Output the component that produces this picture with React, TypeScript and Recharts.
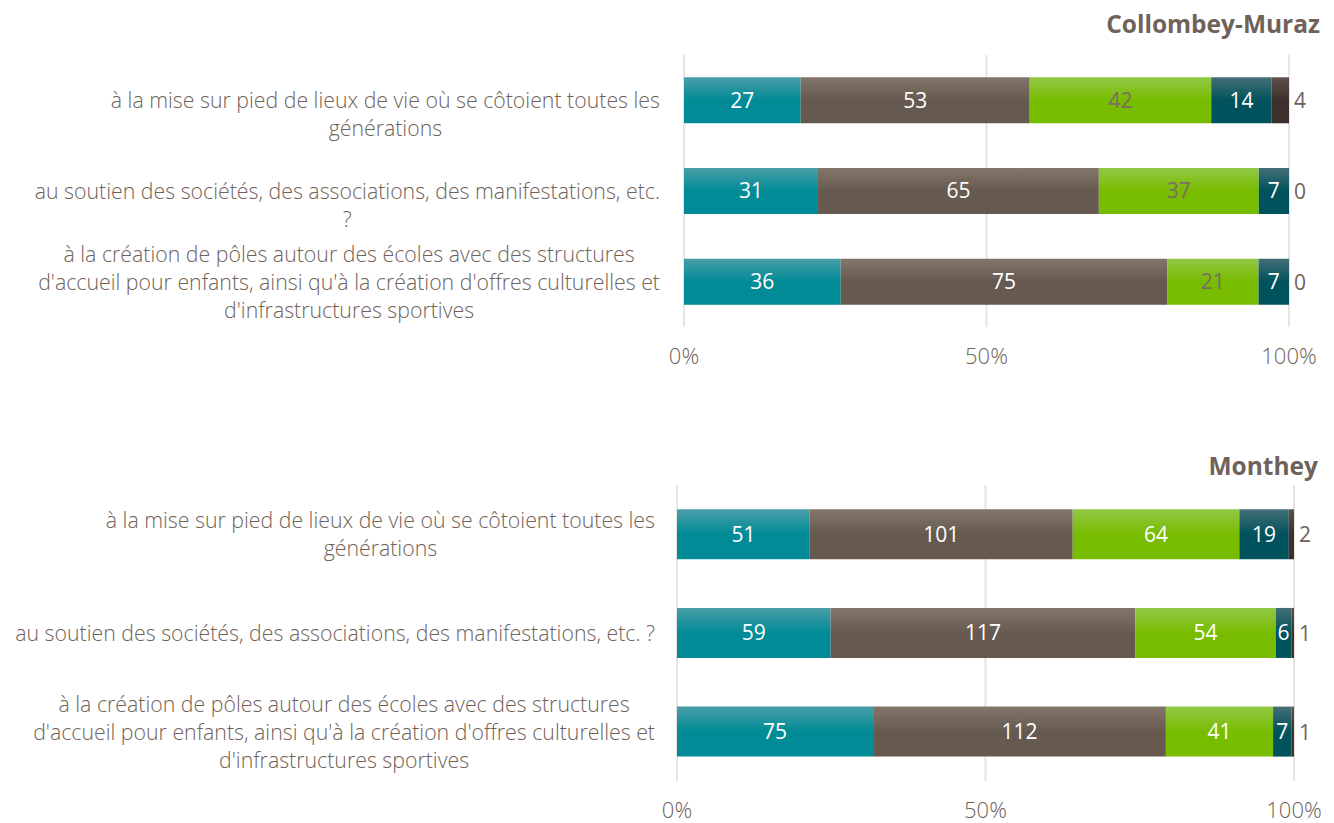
import React from "react";
import { BarChart, Bar, XAxis, YAxis, CartesianGrid, LabelList } from "recharts";

// answer scale, from most to least favourable
const seriesKeys = ["s1", "s2", "s3", "s4", "s5"];

const labelsCollombey = [
  "à la mise sur pied de lieux de vie où se côtoient toutes les\ngénérations",
  "au soutien des sociétés, des associations, des manifestations, etc.\n?",
  "à la création de pôles autour des écoles avec des structures\nd'accueil pour enfants, ainsi qu'à la création d'offres culturelles et\nd'infrastructures sportives",
];
const collombeyS1 = [27, 31, 36];
const collombeyS2 = [53, 65, 75];
const collombeyS3 = [42, 37, 21];
const collombeyS4 = [14, 7, 7];
const collombeyS5 = [4, 0, 0];

const labelsMonthey = [
  "à la mise sur pied de lieux de vie où se côtoient toutes les\ngénérations",
  "au soutien des sociétés, des associations, des manifestations, etc. ?",
  "à la création de pôles autour des écoles avec des structures\nd'accueil pour enfants, ainsi qu'à la création d'offres culturelles et\nd'infrastructures sportives",
];
const montheyS1 = [51, 59, 75];
const montheyS2 = [101, 117, 112];
const montheyS3 = [64, 54, 41];
const montheyS4 = [19, 6, 7];
const montheyS5 = [2, 1, 1];

const pctTicks = [0, 0.5, 1];

const TEXT = "#6f6259";
const FONT = "'Open Sans', sans-serif";

const palette = [
  { id: "gTeal", light: "#4a9ea8", base: "#008b96" },
  { id: "gBrown", light: "#837669", base: "#665950" },
  { id: "gGreen", light: "#92c847", base: "#78bc00" },
  { id: "gDark", light: "#456f77", base: "#00525c" },
  { id: "gDarkest", light: "#5c514b", base: "#3b302b" },
];

function buildRows(labels: string[], cols: number[][]) {
  return labels.map((label, i) => {
    const row: Record<string, string | number> = { label };
    seriesKeys.forEach((k, j) => (row[k] = cols[j][i]));
    return row;
  });
}

const collombeyData = buildRows(labelsCollombey, [collombeyS1, collombeyS2, collombeyS3, collombeyS4, collombeyS5]);
const montheyData = buildRows(labelsMonthey, [montheyS1, montheyS2, montheyS3, montheyS4, montheyS5]);

function QuestionTick(props: any) {
  const { x, y, payload, boxWidth, nudge } = props;
  const text: string = payload.value;
  const lines = text.split("\n").length;
  const shift = lines === 2 ? nudge : 0;
  const h = 120;
  return (
    <foreignObject x={x - boxWidth} y={y - h / 2 + shift} width={boxWidth} height={h}>
      <div
        style={{
          height: h,
          display: "flex",
          justifyContent: "flex-end",
          alignItems: "center",
        }}
      >
        <div
          style={{
            whiteSpace: "pre",
            textAlign: "center",
            fontFamily: FONT,
            fontWeight: 300,
            fontSize: 21.3,
            lineHeight: "28px",
            color: TEXT,
          }}
        >
          {text}
        </div>
      </div>
    </foreignObject>
  );
}

// label drawn just past the end of the stack, also for empty segments
function EndLabel(props: any) {
  const { x, y, width, height, value } = props;
  return (
    <text
      x={x + width + 5}
      y={y + height / 2}
      dominantBaseline="central"
      fill={TEXT}
      fontFamily={FONT}
      fontSize={21}
    >
      {value}
    </text>
  );
}

interface PanelProps {
  data: Record<string, string | number>[];
  axisWidth: number;
  rightGap: number;
  plotTop: number;
  height: number;
  bottom: number;
  greenLabel: string;
  nudge: number;
  labelGap: number;
}

function Panel({ data, axisWidth, rightGap, plotTop, height, bottom, greenLabel, nudge, labelGap }: PanelProps) {
  const labelStyle = { fontFamily: FONT, fontSize: 21, fontWeight: 400 };
  return (
    <BarChart
      width={1334}
      height={height}
      data={data}
      layout="vertical"
      stackOffset="expand"
      barCategoryGap="24.6%"
      margin={{ top: plotTop, right: rightGap, left: 0, bottom }}
    >
      <defs>
        {palette.map((p) => (
          <linearGradient key={p.id} id={p.id} x1="0" y1="0" x2="0" y2="1">
            <stop offset="0%" stopColor={p.light} />
            <stop offset="50%" stopColor={p.base} />
            <stop offset="100%" stopColor={p.base} />
          </linearGradient>
        ))}
      </defs>
      <CartesianGrid horizontal={false} stroke="#e8e4e1" strokeWidth={2} />
      <XAxis
        type="number"
        domain={[0, 1]}
        ticks={pctTicks}
        tickFormatter={(v: number) => `${Math.round(v * 100)}%`}
        axisLine={false}
        tickLine={false}
        tickSize={0}
        tickMargin={21}
        tick={{ fill: TEXT, fontFamily: FONT, fontSize: 22, fontWeight: 300 }}
      />
      <YAxis
        type="category"
        dataKey="label"
        width={axisWidth}
        axisLine={false}
        tickLine={false}
        tick={<QuestionTick boxWidth={axisWidth - labelGap} nudge={nudge} />}
        tickMargin={labelGap}
        tickSize={0}
      />
      {seriesKeys.map((k, i) => (
        <Bar
          key={k}
          dataKey={k}
          stackId="a"
          fill={`url(#${palette[i].id})`}
          isAnimationActive={false}
          minPointSize={i === 4 ? 0.01 : 0}
        >
          {i === 4 ? (
            <LabelList dataKey={k} content={EndLabel} />
          ) : (
            <LabelList
              dataKey={k}
              position="center"
              fill={i === 2 ? greenLabel : "#ffffff"}
              style={labelStyle}
            />
          )}
        </Bar>
      ))}
    </BarChart>
  );
}

const titleStyle: React.CSSProperties = {
  position: "absolute",
  right: 14,
  fontFamily: FONT,
  fontWeight: 700,
  fontSize: 24.5,
  color: TEXT,
  lineHeight: "30px",
};

export default function App() {
  return (
    <div style={{ position: "absolute", left: 0, top: 0, width: 1334, height: 823, background: "#fff", overflow: "hidden" }}>
      <div style={{ ...titleStyle, top: 9 }}>Collombey-Muraz</div>
      <div style={{ position: "absolute", left: 0, top: 0 }}>
        <Panel
          data={collombeyData}
          axisWidth={684}
          rightGap={45}
          plotTop={55}
          height={400}
          bottom={43}
          greenLabel="#7a6d63"
          nudge={14}
          labelGap={24}
        />
      </div>
      <div style={{ ...titleStyle, top: 451, right: 16 }}>Monthey</div>
      <div style={{ position: "absolute", left: 0, top: 430 }}>
        <Panel
          data={montheyData}
          axisWidth={677}
          rightGap={40}
          plotTop={55}
          height={393}
          bottom={12}
          greenLabel="#ffffff"
          nudge={0}
          labelGap={22}
        />
      </div>
    </div>
  );
}
